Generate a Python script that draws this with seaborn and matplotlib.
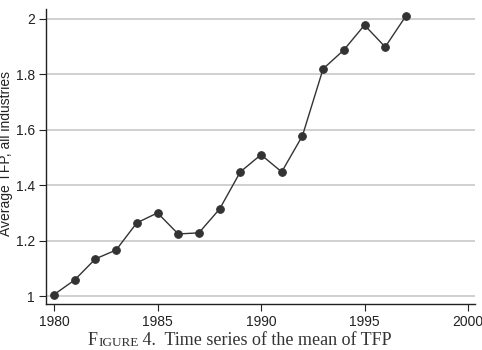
import matplotlib
matplotlib.use("Agg")
import matplotlib.pyplot as plt
import seaborn as sns
import pandas as pd

years = [1980, 1981, 1982, 1983, 1984, 1985, 1986, 1987, 1988, 1989,
         1990, 1991, 1992, 1993, 1994, 1995, 1996, 1997]
tfp = [1.005, 1.058, 1.134, 1.166, 1.264, 1.300, 1.224, 1.228, 1.314, 1.448,
       1.510, 1.448, 1.578, 1.820, 1.888, 1.978, 1.899, 2.011]
xticks = [1980, 1985, 1990, 1995, 2000]
yticks = [1, 1.2, 1.4, 1.6, 1.8, 2]
ytick_labels = ["1", "1.2", "1.4", "1.6", "1.8", "2"]
caption_parts = [("F", 13), ("IGURE", 9.5), (" 4.  Time series of the mean of TFP", 13)]

df = pd.DataFrame({"year": years, "tfp": tfp})

sns.set_theme(style="white")
plt.rcParams['font.family'] = ['Liberation Sans', 'DejaVu Sans']

W, H = 482, 350
fig = plt.figure(figsize=(W/100, H/100), dpi=100)
ax = fig.add_axes([46/W, 1-304/H, (475-46)/W, (304-9)/H])

for yv in yticks:
    ax.axhline(yv, color="#c8c8c8", lw=1.2, zorder=0)

sns.lineplot(data=df, x="year", y="tfp", ax=ax, color="#333333", lw=1.0,
             marker="o", markersize=5.5, markeredgecolor="#333333",
             markerfacecolor="#333333")

ax.set_xlim(1980 - 8/20.7, 2000 + 7/20.7)
ax.set_ylim(1 - 8/277, 2 + 10/277)
ax.set_xticks(xticks)
ax.set_xticklabels([str(x) for x in xticks])
ax.set_yticks(yticks)
ax.set_yticklabels(ytick_labels)
ax.tick_params(axis="both", direction="out", length=5, width=0.8, color="#222222",
               labelsize=10, labelcolor="#222222", left=True, bottom=True, pad=3)
ax.set_xlabel("")
ax.set_ylabel("Average TFP, all industries", fontsize=10, color="#222222")
ax.yaxis.set_label_coords(-(46-13)/(475-46), (304-154)/(304-9))
for s in ["top", "right"]:
    ax.spines[s].set_visible(False)
for s in ["left", "bottom"]:
    ax.spines[s].set_color("#222222")
    ax.spines[s].set_linewidth(1.0)

# caption with small caps, centred near x=240
serif = ["Liberation Serif", "DejaVu Serif"]
fig.canvas.draw()
r = fig.canvas.get_renderer()
texts = []
for s, fs in caption_parts:
    t = fig.text(0, 1/H, s, fontsize=fs, family=serif, ha="left", va="bottom", color="#333333")
    texts.append(t)
widths = [t.get_window_extent(r).width for t in texts]
x = 240 - sum(widths) / 2
for t, w in zip(texts, widths):
    t.set_x(x / W)
    x += w

fig.savefig("out.png", dpi=100)
